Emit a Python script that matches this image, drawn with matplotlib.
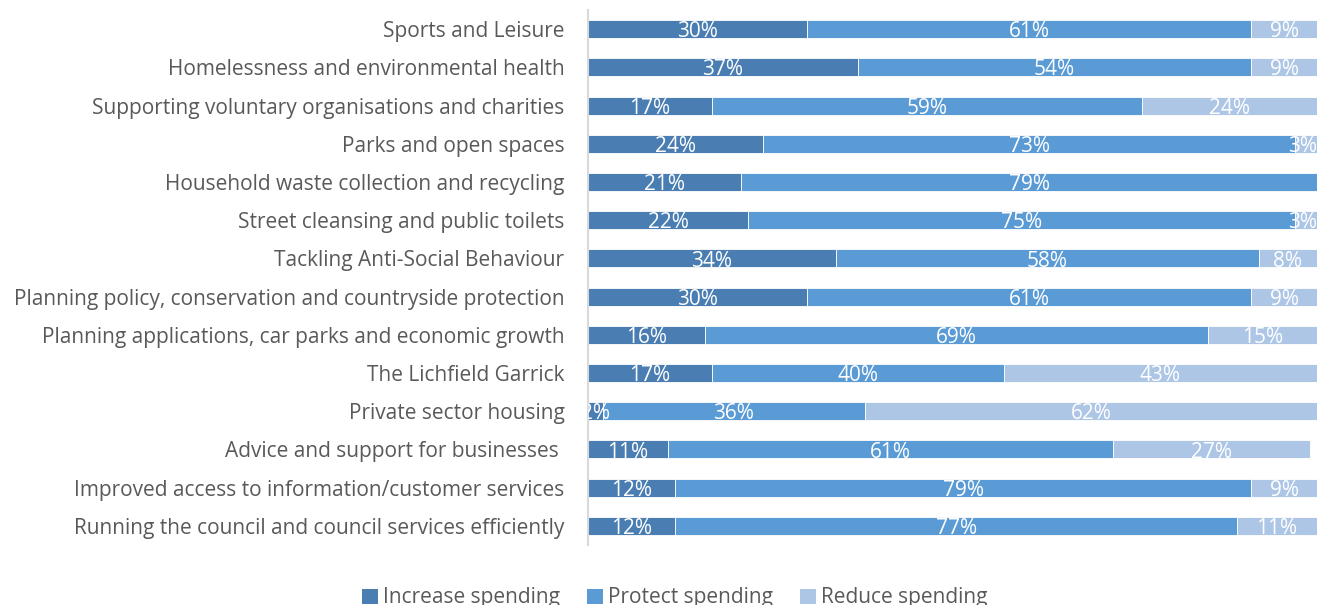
import matplotlib
matplotlib.use("Agg")
import matplotlib.pyplot as plt
from matplotlib.patches import Patch
import numpy as np

categories = [
    "Sports and Leisure",
    "Homelessness and environmental health",
    "Supporting voluntary organisations and charities",
    "Parks and open spaces",
    "Household waste collection and recycling",
    "Street cleansing and public toilets",
    "Tackling Anti-Social Behaviour",
    "Planning policy, conservation and countryside protection",
    "Planning applications, car parks and economic growth",
    "The Lichfield Garrick",
    "Private sector housing",
    "Advice and support for businesses ",
    "Improved access to information/customer services",
    "Running the council and council services efficiently",
]
increase = [30, 37, 17, 24, 21, 22, 34, 30, 16, 17, 2, 11, 12, 12]
protect = [61, 54, 59, 73, 79, 75, 58, 61, 69, 40, 36, 61, 79, 77]
reduce = [9, 9, 24, 3, 0, 3, 8, 9, 15, 43, 62, 27, 9, 11]

series_names = ["Increase spending", "Protect spending", "Reduce spending"]
colors = ["#4a7eb3", "#5b9bd5", "#adc6e6"]

plt.rcParams["font.family"] = ["Open Sans", "DejaVu Sans"]
text_color = "#595959"
fs = 15

fig = plt.figure(figsize=(13.17, 6.05), dpi=100)
ax = fig.add_axes([588 / 1317, 60 / 605, 729 / 1317, 535 / 605])
ax.set_xlim(0, 100)
ax.set_ylim(len(categories) - 0.5, -0.5)

y = np.arange(len(categories))
left = np.zeros(len(categories))
labels = []
for vals, name, col in zip([increase, protect, reduce], series_names, colors):
    vals = np.array(vals, dtype=float)
    ax.barh(y, vals, left=left, height=0.47, color=col,
            edgecolor="white", linewidth=0.6, label=name)
    for yi, l, v in zip(y, left, vals):
        if v > 0:
            t = ax.text(l + v / 2, yi + 0.07, f"{int(v)}%", ha="center", va="center",
                        color="white", fontsize=fs, clip_on=True)
            labels.append(t)
    left = left + vals

ax.set_yticks(y)
ax.set_yticklabels(categories, fontsize=fs, color=text_color)
ax.tick_params(axis="y", length=0, pad=17)
ax.set_xticks([])
for s in ["top", "right", "bottom"]:
    ax.spines[s].set_visible(False)
ax.spines["left"].set_color("#d9d9d9")
ax.spines["left"].set_linewidth(1.5)

# keep data labels from running past the right end of the plot area
fig.canvas.draw()
renderer = fig.canvas.get_renderer()
ax_right = ax.get_window_extent(renderer).x1
for t in labels:
    bb = t.get_window_extent(renderer)
    if bb.x1 > ax_right:
        t.set_x(100)
        t.set_ha("right")

handles = [Patch(facecolor=c, edgecolor="none", label=n) for c, n in zip(colors, series_names)]
fig.legend(handles=handles, loc="center", bbox_to_anchor=(675 / 1317, 1 - 598 / 605),
           ncol=3, frameon=False, fontsize=fs, labelcolor=text_color,
           handlelength=0.75, handleheight=0.75, handletextpad=0.25, columnspacing=1.3)

fig.savefig("out.png", dpi=100)
